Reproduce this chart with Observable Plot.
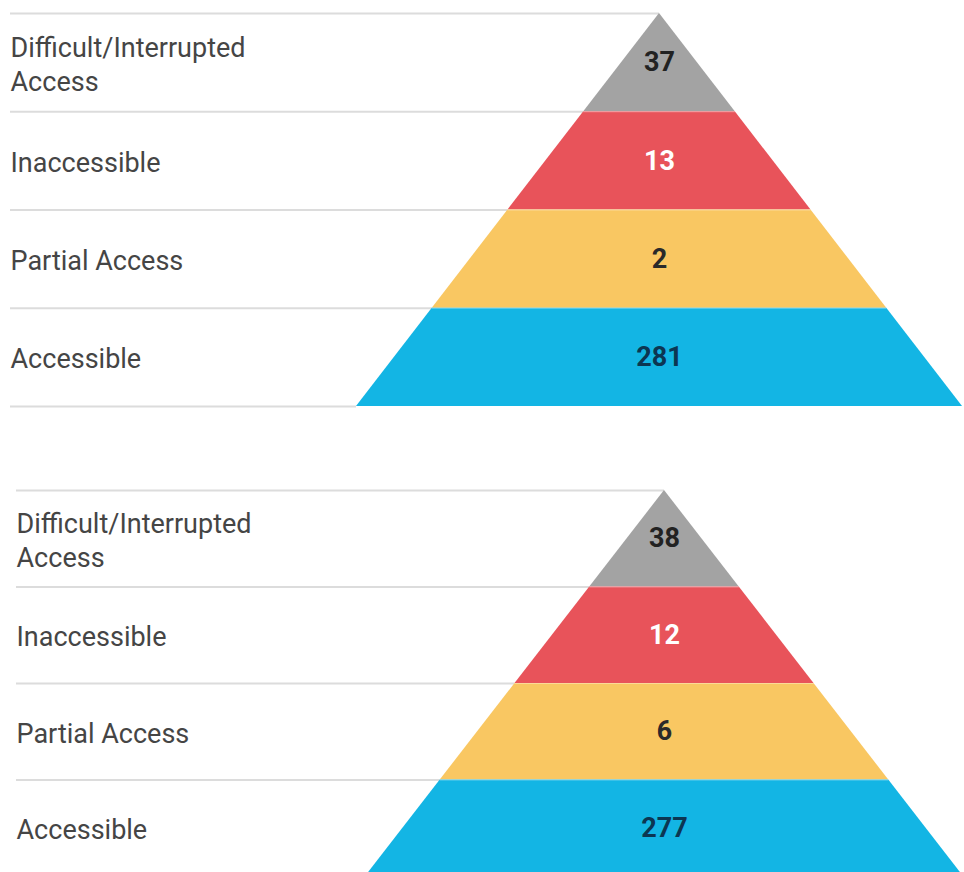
<!DOCTYPE html>
<html>
<head>
<meta charset="utf-8">
<script src="https://cdn.jsdelivr.net/npm/d3@7"></script>
<script src="https://cdn.jsdelivr.net/npm/@observablehq/plot@0.6"></script>
<style>
  html, body { margin: 0; padding: 0; background: #fff; width: 964px; height: 872px; overflow: hidden; }
  #wrap { position: relative; width: 964px; height: 872px; }
  .panel { position: absolute; left: 0; }
</style>
</head>
<body>
<div id="wrap">
  <div class="panel" id="top" style="top:0px"></div>
  <div class="panel" id="bottom" style="top:466px"></div>
</div>
<script>
// Categories, top of pyramid first
const categories = ["Difficult/Interrupted\nAccess", "Inaccessible", "Partial Access", "Accessible"];
// Values of the first (upper) pyramid
const valuesA = [37, 13, 2, 281];
// Values of the second (lower) pyramid
const valuesB = [38, 12, 6, 277];
// Band fill colours and the colour of the number written in each band
const bandColors = ["#a3a3a3", "#e8535a", "#f9c762", "#13b5e4"];
const numberColors = ["#222222", "#ffffff", "#2a2a2a", "#0c3652"];

function pyramid(values, opt) {
  const n = categories.length;
  const rows = categories.map((c, i) => ({category: c, value: values[i], band: i, mid: i + 0.5}));
  // trapezoid outline of each band: the half-width grows with the band index
  const shape = [];
  rows.forEach(r => {
    shape.push({band: r.band, y: r.band, x1: -r.band, x2: r.band});
    shape.push({band: r.band, y: r.band + 1, x1: -(r.band + 1), x2: r.band + 1});
  });
  const bounds = d3.range(n + 1);
  return Plot.plot({
    width: 964,
    height: opt.height,
    marginLeft: opt.left,
    marginRight: 0,
    marginTop: 0,
    marginBottom: 0,
    style: {fontFamily: "Roboto, sans-serif", background: "transparent"},
    x: {domain: [-n, n], range: [opt.cx - opt.half, opt.cx + opt.half], axis: null},
    y: {domain: [0, n], range: [opt.top, opt.base], axis: null},
    marks: [
      Plot.ruleY(bounds, {y: d => d, x1: -100, x2: d => -d, stroke: "#dcdcdc", strokeWidth: 2, clip: true}),
      Plot.areaX(shape, {y: "y", x1: "x1", x2: "x2", z: "band", fill: d => bandColors[d.band], curve: "linear"}),
      Plot.ruleY(d3.range(1, n), {y: d => d, x1: d => -d, x2: d => d, stroke: "#ffffff", strokeOpacity: 0.35, strokeWidth: 1}),
      Plot.text(rows, {y: "mid", text: "category", frameAnchor: "left", textAnchor: "start",
        fontSize: 27, fill: "#454545", lineHeight: 1.26}),
      Plot.text(rows, {x: () => 0, y: "mid", text: "value", fontSize: 27, fontWeight: "bold",
        fill: d => numberColors[d.band]})
    ]
  });
}

document.getElementById("top").append(pyramid(valuesA, {height: 420, left: 10, cx: 659, half: 303, top: 13, base: 406}));
document.getElementById("bottom").append(pyramid(valuesB, {height: 410, left: 16, cx: 664, half: 299, top: 24, base: 410}));
</script>
</body>
</html>
